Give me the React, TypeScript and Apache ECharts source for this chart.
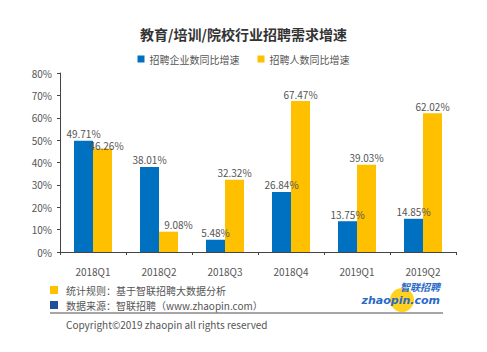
import React, { useEffect, useRef } from "react";
import * as echarts from "echarts";

const categories = ["2018Q1", "2018Q2", "2018Q3", "2018Q4", "2019Q1", "2019Q2"];
const companyGrowth = [49.71, 38.01, 5.48, 26.84, 13.75, 14.85];
const peopleGrowth = [46.26, 9.08, 32.32, 67.47, 39.03, 62.02];
const seriesNames = ["招聘企业数同比增速", "招聘人数同比增速"];
const titleText = "教育/培训/院校行业招聘需求增速";
const noteRule = "统计规则：基于智联招聘大数据分析";
const noteSource = "数据来源：智联招聘（www.zhaopin.com）";
const copyright = "Copyright©2019 zhaopin all rights reserved";

const BLUE = "#0070C0";
const YELLOW = "#FFC000";
const FONT = "'Noto Sans CJK SC', 'Noto Sans', sans-serif";

// label nudges (style only) for the yellow series, to mirror the reference placement
const peopleLabelOffsets: Record<number, [number, number]> = { 0: [4, 4], 1: [10, 0] };

export default function App() {
  const ref = useRef<HTMLDivElement>(null);
  useEffect(() => {
    if (!ref.current) return;
    const chart = echarts.init(ref.current, null, { renderer: "svg" });
    const label = {
      show: true,
      position: "top",
      distance: 2,
      color: "#555",
      fontSize: 10,
      fontFamily: FONT,
      formatter: (p: any) => p.value.toFixed(2) + "%",
    };
    chart.setOption({
      animation: false,
      backgroundColor: "#fff",
      textStyle: { fontFamily: FONT },
      title: {
        text: titleText,
        left: "center",
        top: 22,
        textStyle: { fontSize: 14, fontWeight: "bold", color: "#333", fontFamily: FONT },
      },
      legend: {
        data: seriesNames,
        top: 49,
        left: "center",
        itemWidth: 7,
        itemHeight: 7,
        itemGap: 18,
        icon: "rect",
        textStyle: { fontSize: 10, color: "#555", fontFamily: FONT },
      },
      grid: { left: 60, right: 31, top: 73, bottom: 100, containLabel: false },
      xAxis: {
        type: "category",
        data: categories,
        axisLine: { lineStyle: { color: "#444" } },
        axisTick: { show: true, length: 3, lineStyle: { color: "#444" } },
        axisLabel: { color: "#555", fontSize: 10, margin: 14, fontFamily: FONT },
      },
      yAxis: {
        type: "value",
        min: 0,
        max: 80,
        interval: 10,
        axisLine: { show: true, lineStyle: { color: "#444" } },
        axisTick: { show: true, length: 3, lineStyle: { color: "#444" } },
        splitLine: { show: false },
        axisLabel: { color: "#555", fontSize: 10, formatter: "{value}%", fontFamily: FONT },
      },
      series: [
        {
          name: seriesNames[0],
          type: "bar",
          data: companyGrowth,
          barWidth: 19,
          barGap: "0%",
          itemStyle: { color: BLUE },
          label,
        },
        {
          name: seriesNames[1],
          type: "bar",
          data: peopleGrowth.map((v, i) =>
            peopleLabelOffsets[i] ? { value: v, label: { offset: peopleLabelOffsets[i] } } : v
          ),
          barWidth: 19,
          itemStyle: { color: YELLOW },
          label,
        },
      ],
      graphic: [
        { type: "rect", shape: { x: 50, y: 286, width: 8, height: 8 }, style: { fill: YELLOW } },
        { type: "text", x: 66, y: 290, style: { text: noteRule, fontSize: 10, fill: "#555", fontFamily: FONT, verticalAlign: "middle" } },
        { type: "rect", shape: { x: 50, y: 301, width: 8, height: 8 }, style: { fill: "#1F4E9C" } },
        { type: "text", x: 66, y: 305, style: { text: noteSource, fontSize: 10, fill: "#555", fontFamily: FONT, verticalAlign: "middle" } },
        { type: "line", shape: { x1: 50, y1: 313, x2: 443, y2: 313 }, style: { stroke: "#888", lineWidth: 1.5 } },
        { type: "text", x: 66, y: 324, style: { text: copyright, fontSize: 10, fill: "#555", fontFamily: FONT, verticalAlign: "middle" } },
        { type: "circle", shape: { cx: 402, cy: 300, r: 12 }, style: { fill: "#FFD21F" } },
        { type: "text", x: 440, y: 286, style: { text: "智联招聘", fontSize: 10, fontWeight: "bold", fontStyle: "italic", fill: "#2A6AC8", fontFamily: FONT, align: "right", verticalAlign: "middle" } },
        { type: "text", x: 440, y: 300, style: { text: "zhaopin.com", fontSize: 11, fontWeight: "bold", fontStyle: "italic", fill: "#2A6AC8", fontFamily: "'DejaVu Sans', sans-serif", align: "right", verticalAlign: "middle" } },
      ],
    });
    return () => chart.dispose();
  }, []);
  return (
    <div style={{ position: "fixed", left: 0, top: 0, width: 487, height: 352 }}>
      <div ref={ref} style={{ width: 487, height: 352 }} />
    </div>
  );
}
